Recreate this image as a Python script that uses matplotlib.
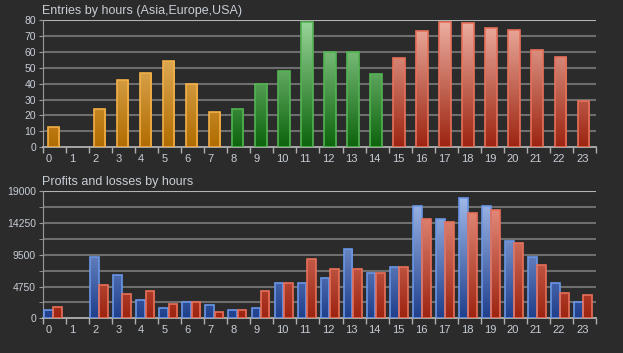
import numpy as np
import matplotlib
matplotlib.use("Agg")
import matplotlib.pyplot as plt
from matplotlib.colors import LinearSegmentedColormap
from matplotlib.patches import Rectangle

# Data
hours = list(range(24))
entries = [13, 0, 24, 42, 47, 54, 40, 22, 24, 40, 48, 79,
           60, 60, 46, 56, 73, 79, 78, 75, 74, 61, 57, 29]
# region of each hour: Asia 0-7, Europe 8-14, USA 15-23
region = ['asia'] * 8 + ['europe'] * 7 + ['usa'] * 9
profits = [1200, 0, 9130, 6530, 2790, 1600, 2390, 2000, 1200, 1600, 5240, 5240,
           5980, 10420, 6780, 7630, 16800, 14810, 18000, 16800, 11620, 9180, 5240, 2390]
losses = [1650, 0, 4940, 3590, 4040, 2140, 2390, 1000, 1200, 4040, 5240, 8830,
          7430, 7430, 6780, 7630, 14860, 14460, 15710, 16260, 11270, 8030, 3790, 3440]
top_title = 'Entries by hours (Asia,Europe,USA)'
bottom_title = 'Profits and losses by hours'
bottom_ticks = [0, 4750, 9500, 14250, 19000]

BG = '#2b2b2b'
TXT = '#c8ced6'
GRID = '#6e6e6e'

# (bottom colour, top colour, edge colour)
styles = {
    'asia':   ('#b06c00', '#f2c47a', '#f4b048'),
    'europe': ('#0c640c', '#9ad69a', '#52b452'),
    'usa':    ('#9c2410', '#eeb0a2', '#e8705a'),
    'profit': ('#1f3f8c', '#a8c0ee', '#6a96e6'),
    'loss':   ('#9c2410', '#ee9a8a', '#e8705a'),
}

plt.rcParams['font.family'] = ['Liberation Sans', 'DejaVu Sans']

fig = plt.figure(figsize=(6.23, 3.53), dpi=100, facecolor=BG)
ax1 = fig.add_axes((43/623, 1-147.3/353, 553/623, 127.3/353), facecolor=BG)
ax2 = fig.add_axes((43/623, 1-318.3/353, 553/623, 127/353), facecolor=BG)


def grad_bar(ax, x, w, h, ymax, style):
    if h <= 0:
        return
    lo, hi, edge = styles[style]
    cmap = LinearSegmentedColormap.from_list(style, [lo, hi])
    grad = np.linspace(0, 1, 256).reshape(-1, 1)
    im = ax.imshow(grad, cmap=cmap, origin='lower', aspect='auto',
                   extent=(x - w/2, x + w/2, 0, ymax), zorder=3)
    rect = Rectangle((x - w/2, 0), w, h, facecolor='none', edgecolor=edge,
                     lw=1.2, zorder=4)
    ax.add_patch(rect)
    im.set_clip_path(rect)


def style_axes(ax, ymax, yticks, minor):
    ax.set_xlim(-0.5, 23.5)
    ax.set_ylim(0, ymax)
    ax.set_yticks(yticks)
    ax.set_yticks(minor, minor=True)
    ax.set_xticks(np.arange(-0.5, 24, 1))
    ax.set_xticklabels([])
    for s in ('top', 'right'):
        ax.spines[s].set_visible(False)
    ax.spines['left'].set_color('#9a9a9a')
    ax.spines['bottom'].set_color('#b0b0b0')
    ax.spines['bottom'].set_linewidth(1.3)
    ax.tick_params(axis='x', colors='#b0b0b0', length=4, width=1)
    ax.tick_params(axis='y', which='both', colors='#9a9a9a', length=3,
                   labelcolor=TXT, labelsize=7.5, pad=2)
    for v in minor:
        if v == 0:
            continue
        c = '#b4b4b4' if v == ymax else GRID
        ax.axhline(v, color=c, lw=1.5, zorder=1)
    for h in hours:
        ax.text(h - 0.37, -0.05, str(h), transform=ax.get_xaxis_transform(),
                ha='left', va='top', color=TXT, fontsize=8)


# top chart
style_axes(ax1, 80, range(0, 81, 10), range(0, 81, 10))
for h, v, r in zip(hours, entries, region):
    grad_bar(ax1, h - 0.05, 0.5, v, 80, r)
fig.text(42/623, 1-11/353, top_title, ha='left', va='center', color=TXT, fontsize=9)

# bottom chart
style_axes(ax2, 19000, bottom_ticks, np.arange(0, 19001, 2375))
for h, p, l in zip(hours, profits, losses):
    grad_bar(ax2, h - 0.26, 0.38, p, 19000, 'profit')
    grad_bar(ax2, h + 0.14, 0.38, l, 19000, 'loss')
fig.text(42/623, 1-182/353, bottom_title, ha='left', va='center', color=TXT, fontsize=9)

fig.savefig('out.png', dpi=100, facecolor=BG)
